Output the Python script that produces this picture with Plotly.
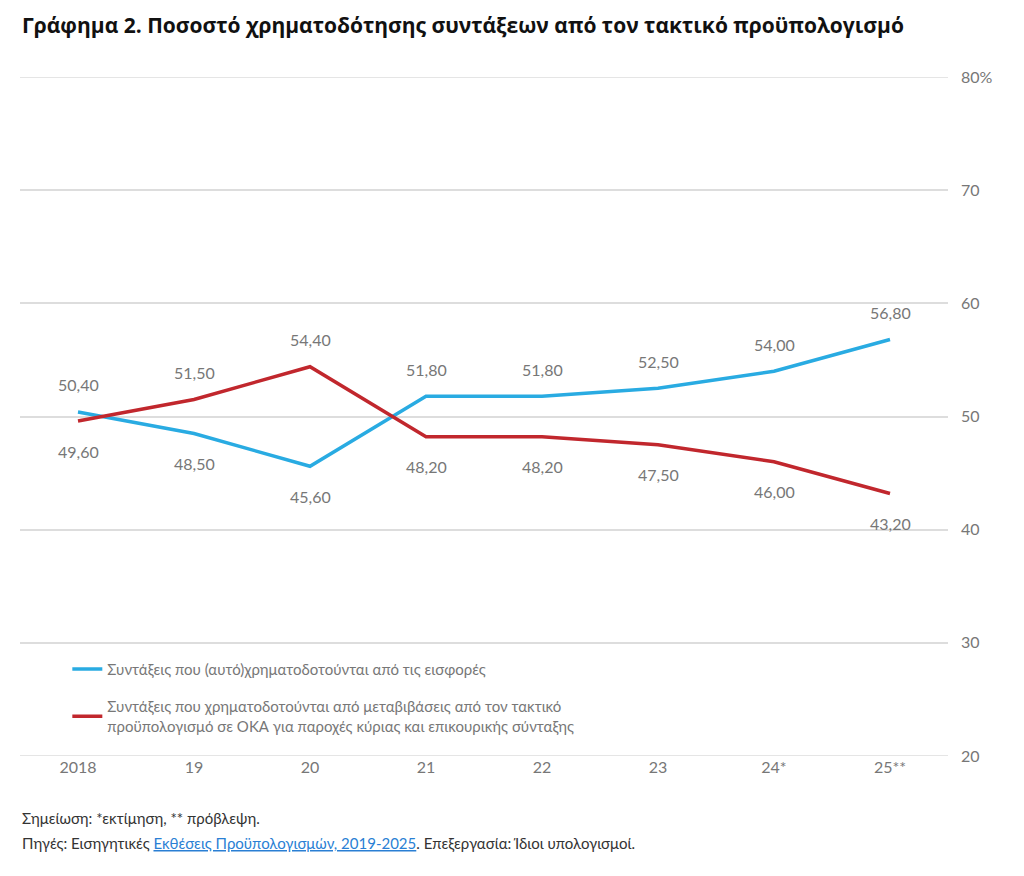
import plotly.graph_objects as go

categories = ["2018", "19", "20", "21", "22", "23", "24*", "25**"]
blue_vals = [50.4, 48.5, 45.6, 51.8, 51.8, 52.5, 54.0, 56.8]
red_vals = [49.6, 51.5, 54.4, 48.2, 48.2, 47.5, 46.0, 43.2]
blue_name = "Συντάξεις που (αυτό)χρηματοδοτούνται από τις εισφορές"
red_name = ("Συντάξεις που χρηματοδοτούνται από μεταβιβάσεις από τον τακτικό<br>"
            "προϋπολογισμό σε ΟΚΑ για παροχές κύριας και επικουρικής σύνταξης")
y_ticks = [20, 30, 40, 50, 60, 70, 80]
y_ticktext = ["20", "30", "40", "50", "60", "70", "80%"]

BLUE = "#29ABE2"
RED = "#C1272D"
GRAY = "#777777"
GRID = "#DDDDDD"
FONT = "Lato"

fig = go.Figure()
fig.add_trace(go.Scatter(x=categories, y=blue_vals, mode="lines", name=blue_name,
                         legendgroup="a", line=dict(color=BLUE, width=3.5)))
fig.add_trace(go.Scatter(x=categories, y=red_vals, mode="lines", name=red_name,
                         legendgroup="b", line=dict(color=RED, width=3.5)))

def fmt(v):
    return f"{v:.2f}".replace(".", ",")

for i, (b, r) in enumerate(zip(blue_vals, red_vals)):
    hi, lo = (b, r) if b >= r else (r, b)
    fig.add_annotation(x=i, y=hi, text=fmt(hi), showarrow=False, yshift=27,
                       font=dict(size=16, color=GRAY, family=FONT))
    fig.add_annotation(x=i, y=lo, text=fmt(lo), showarrow=False, yshift=-30,
                       font=dict(size=16, color=GRAY, family=FONT))

# gridlines at the axis range edges (not drawn by plotly at the edges)
for yv in (y_ticks[0], y_ticks[-1]):
    fig.add_shape(type="line", xref="paper", yref="y", x0=0, x1=1, y0=yv, y1=yv,
                  line=dict(color=GRID, width=1.5), layer="below")

fig.add_annotation(xref="paper", yref="paper", x=0, y=1, xshift=0, yshift=77 - 25,
                   xanchor="left", yanchor="middle", showarrow=False,
                   text="<b>Γράφημα 2. Ποσοστό χρηματοδότησης συντάξεων από τον τακτικό προϋπολογισμό</b>",
                   font=dict(size=21, color="#111111", family="Open Sans"))
fig.add_annotation(xref="paper", yref="paper", x=0, y=0, xshift=0, yshift=-(818 - 756),
                   xanchor="left", yanchor="middle", showarrow=False,
                   text="Σημείωση: *εκτίμηση, ** πρόβλεψη.",
                   font=dict(size=15, color="#333333", family=FONT))
fig.add_annotation(xref="paper", yref="paper", x=0, y=0, xshift=0, yshift=-(843 - 756),
                   xanchor="left", yanchor="middle", showarrow=False,
                   text=("Πηγές: Εισηγητικές <span style='color:#2A7FD4'><u>Εκθέσεις Προϋπολογισμών, 2019-2025</u></span>"
                         ". Επεξεργασία: Ίδιοι υπολογισμοί."),
                   font=dict(size=15, color="#333333", family=FONT))

fig.update_layout(
    width=1016, height=868,
    margin=dict(l=12, r=76, t=69, b=120),
    paper_bgcolor="white", plot_bgcolor="white",
    font=dict(family=FONT, color=GRAY),
    showlegend=True,
    legend=dict(x=0.051, y=0.152, xanchor="left", yanchor="top",
                bgcolor="rgba(0,0,0,0)", font=dict(size=15, color=GRAY, family=FONT),
                traceorder="grouped", tracegroupgap=15),
    xaxis=dict(type="category", range=[-0.5, 7.5], showgrid=False, showline=False,
               zeroline=False, ticks="", tickfont=dict(size=16, color=GRAY)),
    yaxis=dict(side="right", range=[20, 80], tickvals=y_ticks, ticktext=y_ticktext,
               showgrid=True, gridcolor=GRID, gridwidth=1.5, zeroline=False,
               showline=False, ticks="", ticklabelstandoff=12,
               tickfont=dict(size=16, color=GRAY)),
)

fig.write_html("out.html")
